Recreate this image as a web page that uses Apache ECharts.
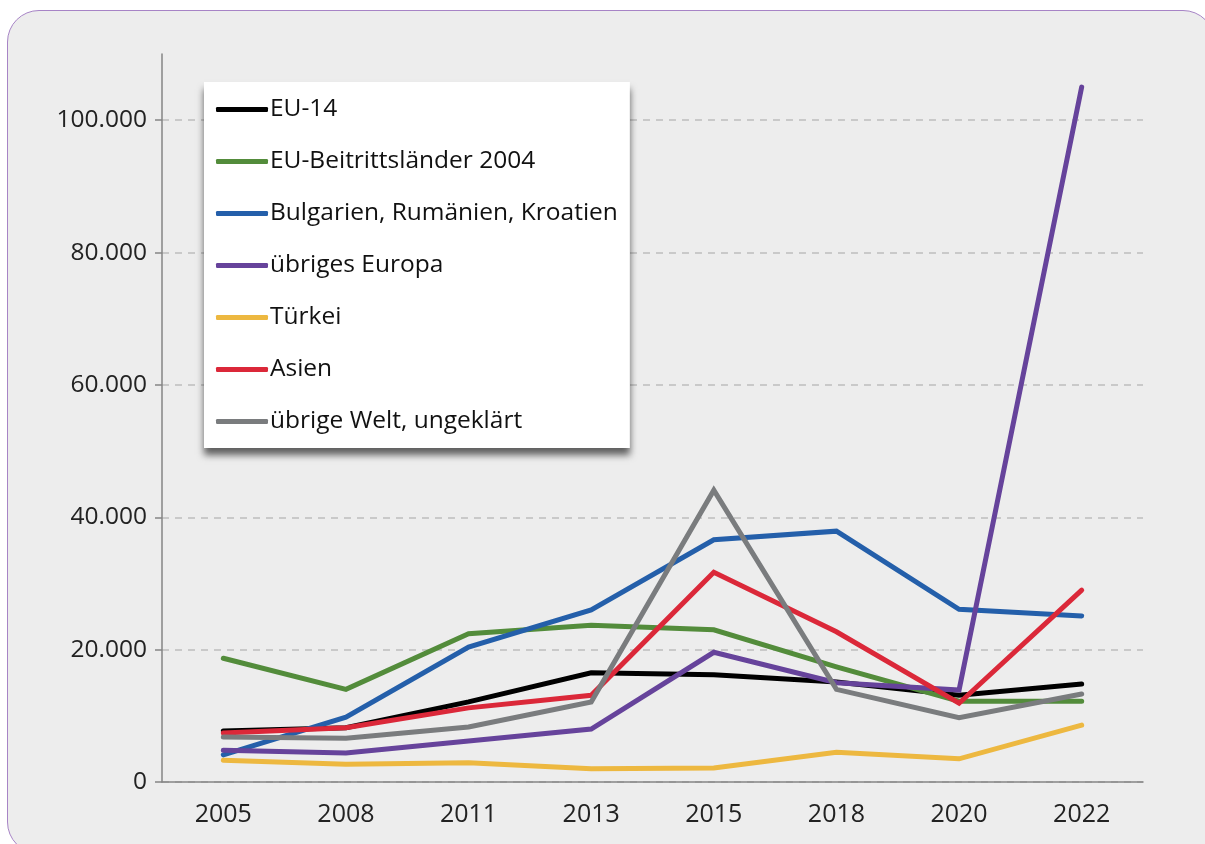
<!DOCTYPE html>
<html>
<head>
<meta charset="utf-8">
<script src="https://cdn.jsdelivr.net/npm/echarts@6/dist/echarts.min.js"></script>
<style>
  html, body { margin: 0; padding: 0; background: #ffffff; }
  #frame {
    position: absolute; left: 7px; top: 10px; width: 1206px; height: 842px;
    border: 1.5px solid #a784c6; border-radius: 32px; background: #ededed;
  }
  #chart { position: absolute; left: 0; top: 0; width: 1205px; height: 844px; }
</style>
</head>
<body>
<div id="frame"></div>
<div id="chart"></div>
<script>
const years = ['2005', '2008', '2011', '2013', '2015', '2018', '2020', '2022'];

const eu14 = [7700, 8200, 12100, 16500, 16200, 15100, 13100, 14800];
const beitritt2004 = [18700, 14000, 22400, 23700, 23000, 17400, 12200, 12200];
const bgRoHr = [4100, 9800, 20400, 26000, 36600, 37900, 26100, 25100];
const uebrigesEuropa = [4800, 4400, 6200, 8000, 19600, 15000, 13900, 105000];
const tuerkei = [3300, 2700, 2900, 2000, 2100, 4500, 3500, 8600];
const asien = [7400, 8200, 11200, 13100, 31700, 22700, 11900, 29000];
const uebrigeWelt = [6800, 6600, 8300, 12100, 44100, 14000, 9700, 13300];

const yTicks = [0, 20000, 40000, 60000, 80000, 100000];

const seriesDefs = [
  { name: 'EU-14', data: eu14, color: '#000000' },
  { name: 'EU-Beitrittsländer 2004', data: beitritt2004, color: '#538c3b' },
  { name: 'Bulgarien, Rumänien, Kroatien', data: bgRoHr, color: '#245faa' },
  { name: 'übriges Europa', data: uebrigesEuropa, color: '#66439b' },
  { name: 'Türkei', data: tuerkei, color: '#edb840' },
  { name: 'Asien', data: asien, color: '#db2839' },
  { name: 'übrige Welt, ungeklärt', data: uebrigeWelt, color: '#7a7c7e' }
];

const fmt = v => String(v).replace(/\B(?=(\d{3})+(?!\d))/g, '.');

const chart = echarts.init(document.getElementById('chart'));
chart.setOption({
  backgroundColor: 'transparent',
  animation: false,
  textStyle: { fontFamily: '"Open Sans", sans-serif' },
  grid: { left: 162, right: 62, top: 54, bottom: 62 },
  legend: {
    orient: 'vertical',
    left: 204,
    top: 82,
    padding: [15, 12, 14, 12],
    backgroundColor: '#ffffff',
    shadowColor: 'rgba(0,0,0,0.6)',
    shadowBlur: 7,
    shadowOffsetY: 7,
    icon: 'roundRect',
    itemWidth: 52,
    itemHeight: 5,
    itemGap: 27,
    textStyle: { fontSize: 24.5, color: '#111', lineHeight: 25, padding: [0, 0, 0, -3] },
    data: seriesDefs.map(s => s.name)
  },
  xAxis: {
    type: 'category',
    data: years,
    boundaryGap: true,
    axisLine: { lineStyle: { color: '#858585', width: 1.5 } },
    axisTick: { length: 8, lineStyle: { color: '#858585', width: 1.5 } },
    axisLabel: { fontSize: 25, color: '#222', margin: 20 }
  },
  yAxis: {
    type: 'value',
    min: 0,
    max: 110000,
    interval: 20000,
    axisLine: { show: true, lineStyle: { color: '#858585', width: 1.5 } },
    axisTick: { show: true, length: 7, customValues: yTicks, lineStyle: { color: '#858585', width: 1.5 } },
    axisLabel: {
      fontSize: 24.5, color: '#222', margin: 15,
      customValues: yTicks,
      formatter: v => fmt(v)
    },
    splitLine: { lineStyle: { color: '#bdbdbd', type: [7, 6], width: 1.5 } }
  },
  series: seriesDefs.map(s => ({
    name: s.name,
    type: 'line',
    data: s.data,
    symbol: 'none',
    color: s.color,
    lineStyle: { width: 5, color: s.color, cap: 'round', join: 'miter' }
  }))
});
</script>
</body>
</html>
